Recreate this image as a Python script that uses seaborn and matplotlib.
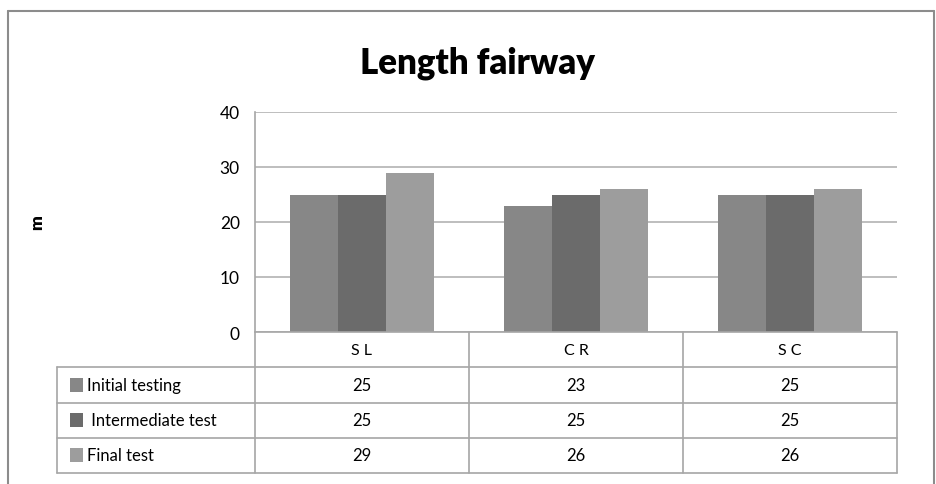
import matplotlib
matplotlib.use("Agg")
import matplotlib.pyplot as plt
from matplotlib.lines import Line2D
from matplotlib.patches import Rectangle
import seaborn as sns
import pandas as pd

# Chart data
categories = ["S L", "C R", "S C"]
series_names = ["Initial testing", " Intermediate test", "Final test"]
initial_testing = [25, 23, 25]
intermediate_test = [25, 25, 25]
final_test = [29, 26, 26]
y_ticks = [0, 10, 20, 30, 40]
colors = ["#878787", "#6b6b6b", "#9d9d9d"]

sns.set_theme(style="white")
plt.rcParams["font.family"] = ["Lato", "DejaVu Sans"]

series_values = [initial_testing, intermediate_test, final_test]
df = pd.DataFrame({
    "category": [c for _ in series_names for c in categories],
    "series": [s for s in series_names for _ in categories],
    "value": [v for vals in series_values for v in vals],
})

W, H = 937, 485
fig = plt.figure(figsize=(W / 100, H / 100), dpi=100)
fig.patch.set_facecolor("white")


def box(x0, y0, x1, y1):
    """Pixel box (top-left origin) -> figure fraction rect."""
    return [x0 / W, 1 - y1 / H, (x1 - x0) / W, (y1 - y0) / H]


grid_col = "#b3b3b3"
line_col = "#a6a6a6"

# Bar chart
ax = fig.add_axes(box(255, 113, 897, 333))
sns.barplot(data=df, x="category", y="value", hue="series", palette=colors,
            width=0.67, saturation=1, legend=False, ax=ax, zorder=3,
            linewidth=0, edgecolor="none")
ax.set_xlim(-0.5, len(categories) - 0.5)
ax.set_ylim(y_ticks[0], y_ticks[-1])
ax.set_yticks(y_ticks)
ax.set_xticks([])
ax.set_xlabel("")
ax.yaxis.grid(True, color=grid_col, linewidth=1.2, zorder=0)
ax.set_axisbelow(True)
for side in ["top", "right", "bottom"]:
    ax.spines[side].set_visible(False)
ax.spines["left"].set_color(line_col)
ax.spines["left"].set_linewidth(1.2)
ax.tick_params(axis="y", length=0, pad=11, labelsize=12.5, labelcolor="black")
ax.set_ylabel("m", fontsize=12.5, fontweight="heavy", color="black")
ax.yaxis.set_label_coords(-0.327, 0.5)

# Data table beneath the bars
tab = fig.add_axes(box(255, 333, 897, 474))
tab.set_xlim(-0.5, len(categories) - 0.5)
tab.set_ylim(len(series_names) + 1, 0)
tab.axis("off")
left_edge = -0.5 - (255 - 57) / 214
n_rows = len(series_names) + 1
kw = dict(color=line_col, linewidth=1.2, clip_on=False)
tab.plot([-0.5, len(categories) - 0.5], [0, 0], **kw)
for r in range(1, n_rows + 1):
    tab.plot([left_edge, len(categories) - 0.5], [r, r], **kw)
tab.plot([left_edge, left_edge], [1, n_rows], **kw)
for c in range(len(categories) + 1):
    tab.plot([c - 0.5, c - 0.5], [0, n_rows], **kw)

for i, cat in enumerate(categories):
    tab.text(i, 0.5, cat, ha="center", va="center", fontsize=11.5, color="black")
for r, (name, vals, col) in enumerate(zip(series_names, series_values, colors), start=1):
    for i, v in enumerate(vals):
        tab.text(i, r + 0.5, f"{v}", ha="center", va="center", fontsize=12, color="black")
    sx = left_edge + (70 - 57) / 214
    sw = 13 / 214
    tab.add_patch(Rectangle((sx, r + 0.5 - 0.2), sw, 0.4, facecolor=col,
                            edgecolor="none", clip_on=False))
    tab.text(left_edge + (87 - 57) / 214, r + 0.5, name, ha="left", va="center",
             fontsize=12, color="black", clip_on=False)

# Title
fig.text(478 / W, 1 - 63 / H, "Length fairway", ha="center", va="center",
         fontsize=25, fontweight="heavy", color="black")

# Outer chart frame (open at the bottom)
frame_col = "#8c8c8c"
for xs, ys in [([8.5, 8.5], [H, 11.5]), ([8.5, 934.5], [11.5, 11.5]),
               ([934.5, 934.5], [11.5, H])]:
    fig.add_artist(Line2D([x / W for x in xs], [1 - y / H for y in ys],
                          color=frame_col, linewidth=1.5))

fig.savefig("out.png", dpi=100)
